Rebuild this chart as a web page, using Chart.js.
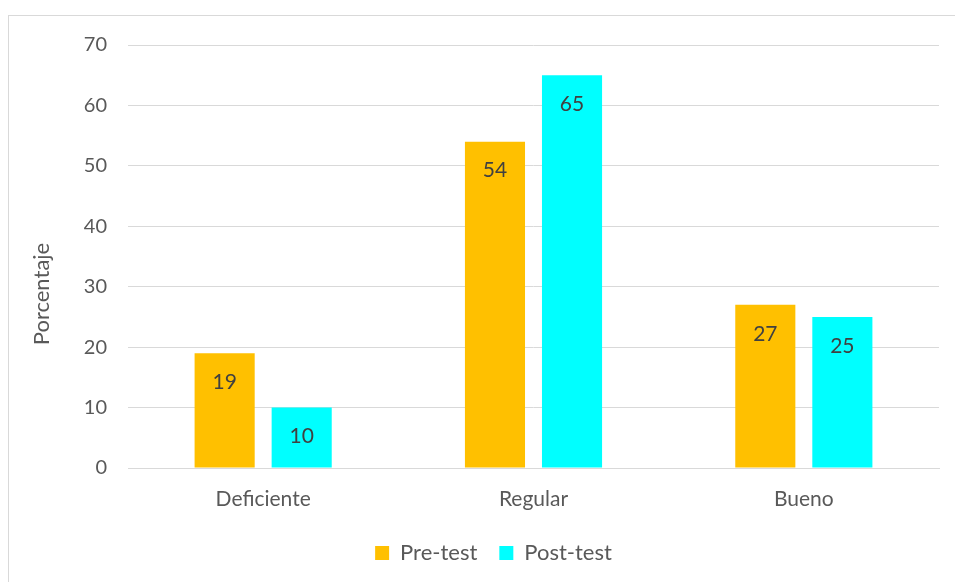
<!DOCTYPE html>
<html>
<head>
<meta charset="utf-8">
<script src="https://cdn.jsdelivr.net/npm/chart.js@4/dist/chart.umd.min.js"></script>
<style>
  html, body { margin: 0; padding: 0; background: #fff; overflow: hidden; }
  #wrap { position: relative; width: 955px; height: 582px; }
  #frame { position: absolute; left: 8px; top: 15px; width: 960px; height: 600px; border: 1px solid #d9d9d9; box-sizing: border-box; }
  canvas { position: absolute; left: 0; top: 0; }
</style>
</head>
<body>
<div id="wrap">
  <div id="frame"></div>
  <canvas id="chart" width="955" height="582"></canvas>
</div>
<script>
// Data -----------------------------------------------------------------------

const CATEGORIES = ['Deficiente', 'Regular', 'Bueno'];
const PRE_TEST = [19, 54, 27];
const POST_TEST = [10, 65, 25];
const Y_TICKS = [0, 10, 20, 30, 40, 50, 60, 70];

const FONT = 'Lato, "Open Sans", sans-serif';
const TEXT_COLOR = '#595959';

// Plugins --------------------------------------------------------------------

const valueLabels = {
    id: 'valueLabels',
    afterDatasetsDraw(chart) {
        const ctx = chart.ctx;
        ctx.save();
        ctx.font = '21px ' + FONT;
        ctx.fillStyle = '#404040';
        ctx.textAlign = 'center';
        ctx.textBaseline = 'middle';
        chart.data.datasets.forEach(function (ds, i) {
            chart.getDatasetMeta(i).data.forEach(function (bar, j) {
                ctx.fillText(String(ds.data[j]), bar.x, bar.y + 29);
            });
        });
        ctx.restore();
    }
};

const axisTitle = {
    id: 'axisTitle',
    afterDraw(chart) {
        const ctx = chart.ctx;
        ctx.save();
        ctx.font = '22px ' + FONT;
        ctx.fillStyle = TEXT_COLOR;
        ctx.textAlign = 'center';
        ctx.textBaseline = 'middle';
        ctx.translate(42, 294);
        ctx.rotate(-Math.PI / 2);
        ctx.fillText('Porcentaje', 0, 0);
        ctx.restore();
    }
};

// Chart ----------------------------------------------------------------------

new Chart(document.getElementById('chart').getContext('2d'), {
    type: 'bar',
    data: {
        labels: CATEGORIES,
        datasets: [
            { label: 'Pre-test', data: PRE_TEST, backgroundColor: '#ffc000' },
            { label: 'Post-test', data: POST_TEST, backgroundColor: '#00ffff' }
        ]
    },
    options: {
        responsive: false,
        animation: false,
        categoryPercentage: 0.57,
        barPercentage: 0.78,
        layout: { padding: { left: 48, right: 16, top: 45, bottom: 8 } },
        plugins: {
            legend: {
                position: 'bottom',
                labels: {
                    boxWidth: 14,
                    boxHeight: 14,
                    padding: 22,
                    color: TEXT_COLOR,
                    font: { family: FONT, size: 22 }
                }
            },
            tooltip: { enabled: false }
        },
        scales: {
            x: {
                afterFit: function (scale) { scale.height = 52; },
                grid: { display: false },
                border: { color: '#d9d9d9' },
                ticks: { color: TEXT_COLOR, font: { family: FONT, size: 21 }, padding: 11 }
            },
            y: {
                min: 0,
                max: 70,
                afterFit: function (scale) { scale.width = 80; },
                afterBuildTicks: function (scale) {
                    scale.ticks = Y_TICKS.map(function (v) { return { value: v }; });
                },
                grid: { color: '#d9d9d9', drawTicks: false },
                border: { display: false },
                ticks: { color: TEXT_COLOR, font: { family: FONT, size: 20 }, padding: 21 }
            }
        }
    },
    plugins: [valueLabels, axisTitle]
});
</script>
</body>
</html>
